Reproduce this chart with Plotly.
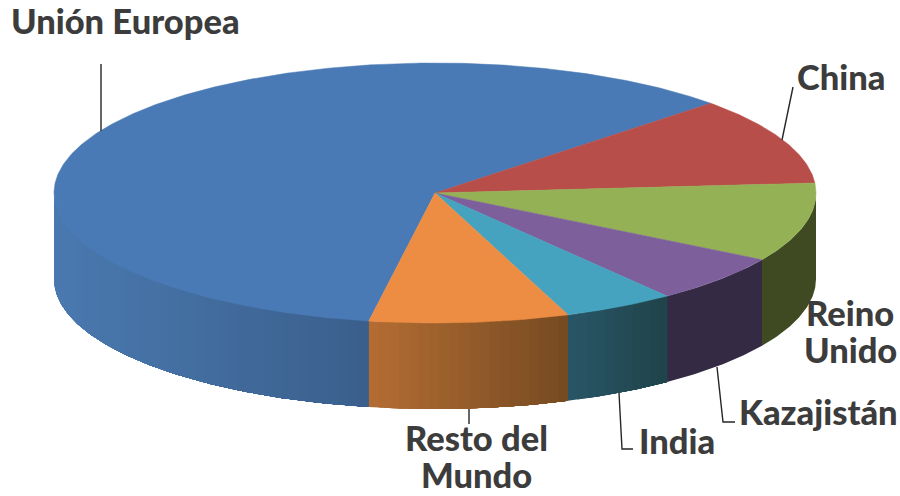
import math
import plotly.graph_objects as go

# --- data ---
categories = ["Unión Europea", "China", "Reino Unido", "Kazajistán", "India", "Resto del Mundo"]
shares = [60.1, 10.9, 9.8, 6.0, 4.75, 8.45]

# --- styling ---
top_colors = ["#4A7AB5", "#B84E4A", "#95B156", "#7D5F9B", "#46A3BF", "#EC8D43"]
wall_left = ["#4A79B0", "#6E2E2C", "#3F4A22", "#352A44", "#285668", "#B46D33"]
wall_right = ["#3A5F8C", "#6E2E2C", "#3F4A22", "#352A44", "#1F4349", "#754A21"]
text_color = "#3C3C3C"
label_size = 34.5

CX, CY, RX, RY, DEPTH = 435.0, 193.0, 381.0, 130.0, 86.0
START_DEG = -100.0  # where the first slice begins; slices run clockwise


def hex_rgb(h):
    return [int(h[i:i + 2], 16) for i in (1, 3, 5)]


def mix(a, b, f):
    ca, cb = hex_rgb(a), hex_rgb(b)
    return "rgb(%d,%d,%d)" % tuple(round(p + (q - p) * f) for p, q in zip(ca, cb))


def pt(deg, drop=0.0):
    r = math.radians(deg)
    return CX + RX * math.cos(r), CY - RY * math.sin(r) + drop


def arc(d0, d1, drop=0.0, step=0.5):
    n = max(2, int(abs(d1 - d0) / step) + 1)
    return [pt(d0 + (d1 - d0) * i / (n - 1), drop) for i in range(n)]


def poly(points, color, edge=0.0):
    return go.Scatter(
        x=[p[0] for p in points] + [points[0][0]],
        y=[p[1] for p in points] + [points[0][1]],
        mode="lines", fill="toself", fillcolor=color,
        line=dict(color=color, width=edge),
        hoverinfo="skip", showlegend=False,
    )


fig = go.Figure()

# slice angular limits from the values
total = sum(shares)
limits = []
a = START_DEG
for s in shares:
    b = a - s / total * 360.0
    limits.append((a, b))
    a = b

# outer wall (front half only), painted left to right so strips overlap and leave no seams
for (a0, a1), cl, cr in zip(limits, wall_left, wall_right):
    lo, hi = min(a0, a1), max(a0, a1)
    for k in (-720, -360, 0, 360):
        l2, h2 = max(lo, -180 + k), min(hi, 0 + k)
        if h2 <= l2:
            continue
        x_l, x_r = pt(l2)[0], pt(h2)[0]
        n = max(1, int((h2 - l2) / 1.5)) if cl != cr else 1
        for i in range(n):
            d0 = l2 + (h2 - l2) * i / n
            d1 = l2 + (h2 - l2) * (i + 1) / n
            xm = (pt(d0)[0] + pt(d1)[0]) / 2
            f = (xm - x_l) / max(1e-6, x_r - x_l)
            fig.add_trace(poly(arc(d0, h2) + arc(h2, d0, DEPTH), mix(cl, cr, f)))

# top face
for (a0, a1), c in zip(limits, top_colors):
    fig.add_trace(poly([(CX, CY)] + arc(a0, a1), c, 0.5))

# leader lines
leader_x = [[101, 101], [793, 782], [735, 723, 717], [633, 622, 619], [469, 469]]
leader_y = [[64, 131], [87, 140], [422, 422, 367], [449, 449, 393], [409, 424]]
for lx, ly in zip(leader_x, leader_y):
    fig.add_trace(go.Scatter(x=lx, y=ly, mode="lines", line=dict(color="#262626", width=1.4),
                             hoverinfo="skip", showlegend=False))

# labels (two-line labels are set line by line to keep the tight leading)
label_text = ["Unión Europea", "China", "Reino", "Unido", "Kazajistán", "India", "Resto del", "Mundo"]
label_x = [125, 841, 850, 850, 818, 677, 476, 476]
label_y = [20, 76, 312, 349, 411, 440, 437.5, 474.5]
for t, x, y in zip(label_text, label_x, label_y):
    fig.add_annotation(x=x, y=y, text=t, showarrow=False, xanchor="center", yanchor="middle",
                       font=dict(family="Lato", size=label_size, color=text_color, weight=900))

fig.update_layout(
    width=900, height=496, margin=dict(l=0, r=0, t=0, b=0),
    paper_bgcolor="white", plot_bgcolor="white", showlegend=False,
    xaxis=dict(range=[0, 900], visible=False, fixedrange=True),
    yaxis=dict(range=[496, 0], visible=False, fixedrange=True),
)
fig.write_html("out.html", config={"displayModeBar": False},
               post_script="document.body.style.margin='0';document.body.style.overflow='hidden';")
